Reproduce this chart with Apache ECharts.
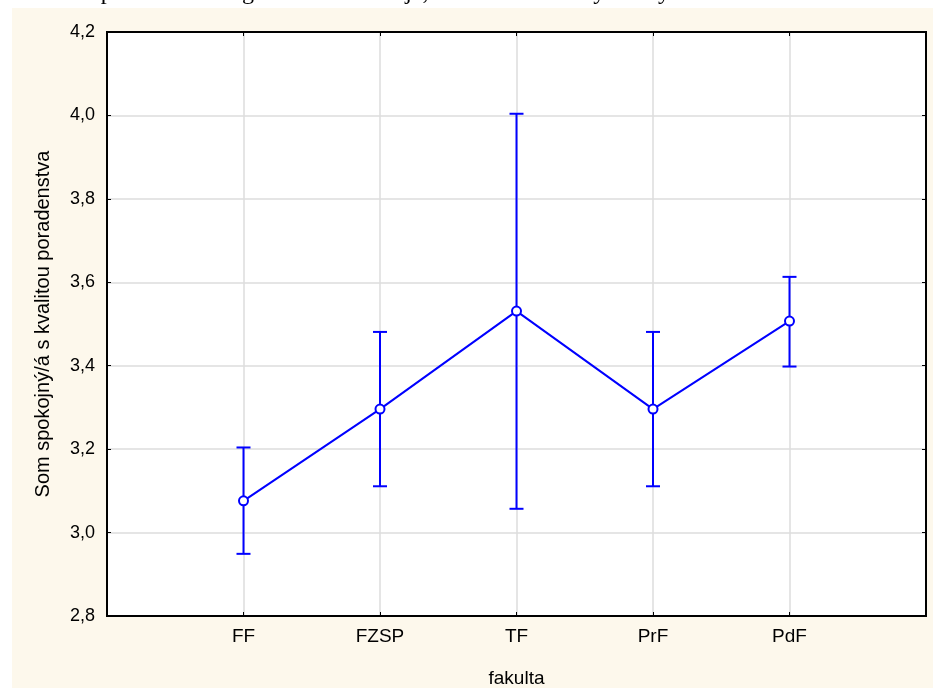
<!DOCTYPE html>
<html>
<head>
<meta charset="utf-8">
<script src="https://cdn.jsdelivr.net/npm/echarts@6/dist/echarts.min.js"></script>
<style>
  html, body { margin: 0; padding: 0; background: #fff; }
  #chart { width: 933px; height: 688px; }
</style>
</head>
<body>
<div id="chart"></div>
<script>
// fakulty, prazdne okraje aby body sedeli na 1..5 zo 6 dielov
var categories = ['', 'FF', 'FZSP', 'TF', 'PrF', 'PdF', ''];
var faculties = ['FF', 'FZSP', 'TF', 'PrF', 'PdF'];
var means = [3.076, 3.296, 3.531, 3.296, 3.507];
var upper = [3.204, 3.481, 4.004, 3.481, 3.613];
var lower = [2.949, 3.111, 3.057, 3.111, 3.398];
var yTicks = [2.8, 3.0, 3.2, 3.4, 3.6, 3.8, 4.0, 4.2];

var blue = '#0000ff';
var font = '"Liberation Sans", Arial, sans-serif';

var chart = echarts.init(document.getElementById('chart'), null, { renderer: 'canvas' });

var lineData = faculties.map(function (f, i) { return [f, means[i]]; });
var errData = faculties.map(function (f, i) { return [f, lower[i], upper[i]]; });

function renderError(params, api) {
    var lo = api.coord([api.value(0), api.value(1)]);
    var hi = api.coord([api.value(0), api.value(2)]);
    var half = 7;
    var st = { stroke: blue, lineWidth: 2 };
    return {
        type: 'group',
        children: [
            { type: 'line', shape: { x1: lo[0], y1: lo[1], x2: hi[0], y2: hi[1] }, style: st },
            { type: 'line', shape: { x1: lo[0] - half, y1: lo[1], x2: lo[0] + half, y2: lo[1] }, style: st },
            { type: 'line', shape: { x1: hi[0] - half, y1: hi[1], x2: hi[0] + half, y2: hi[1] }, style: st }
        ]
    };
}

var option = {
    backgroundColor: '#fdf8ec',
    animation: false,
    graphic: [
        {
            type: 'rect', silent: true,
            shape: { x: 0, y: 0, width: 933, height: 8 },
            style: { fill: '#fff' }
        },
        {
            type: 'rect', silent: true,
            shape: { x: 0, y: 0, width: 12, height: 688 },
            style: { fill: '#fff' }
        },
        {
            type: 'text', left: -6, top: -19,
            style: {
                text: 'sú hodnotí poradenstvo v grafe dokumentuje, že študenti sú s týmto systémom',
                font: '24px "Liberation Serif", "Times New Roman", serif',
                fill: '#000'
            }
        },
        {
            type: 'rect', silent: true,
            shape: { x: 12, y: 8, width: 921, height: 6 },
            style: { fill: '#fdf8ec' }
        }
    ],
    grid: {
        left: 107, right: 7, top: 32, bottom: 72,
        outerBoundsMode: 'none',
        show: true, backgroundColor: '#fff', borderColor: '#000', borderWidth: 2
    },
    xAxis: [{
        type: 'category',
        data: categories,
        boundaryGap: false,
        name: 'fakulta',
        nameLocation: 'middle',
        nameGap: 53,
        nameTextStyle: { fontFamily: font, fontSize: 19, color: '#000' },
        axisLine: { lineStyle: { color: '#000', width: 2 } },
        axisTick: { inside: true, length: 4, lineStyle: { color: '#000' } },
        axisLabel: { fontFamily: font, fontSize: 19, color: '#000', margin: 11 },
        splitLine: { show: true, lineStyle: { color: '#dcdcdc', width: 1.5 } }
    }, {
        type: 'category',
        data: categories,
        boundaryGap: false,
        position: 'top',
        axisLine: { lineStyle: { color: '#000', width: 2 } },
        axisTick: { inside: true, length: 4, lineStyle: { color: '#000' } },
        axisLabel: { show: false },
        splitLine: { show: false }
    }],
    yAxis: [{
        type: 'value',
        min: 2.8, max: 4.2, interval: 0.2,
        name: 'Som spokojný/á s kvalitou poradenstva',
        nameLocation: 'middle',
        nameGap: 54,
        nameTextStyle: { fontFamily: font, fontSize: 20, color: '#000' },
        axisLine: { show: true, lineStyle: { color: '#000', width: 2 } },
        axisTick: { show: true, inside: true, length: 4, lineStyle: { color: '#000' } },
        axisLabel: {
            fontFamily: font, fontSize: 18, color: '#000', margin: 12,
            formatter: function (v) { return v.toFixed(1).replace('.', ','); }
        },
        splitLine: { show: true, lineStyle: { color: '#dcdcdc', width: 1.5 } }
    }, {
        type: 'value',
        min: 2.8, max: 4.2, interval: 0.2,
        position: 'right',
        axisLine: { show: true, lineStyle: { color: '#000', width: 2 } },
        axisTick: { show: true, inside: true, length: 4, lineStyle: { color: '#000' } },
        axisLabel: { show: false },
        splitLine: { show: false }
    }],
    series: [
        {
            type: 'custom',
            renderItem: renderError,
            data: errData,
            z: 3
        },
        {
            type: 'line',
            data: lineData,
            symbol: 'emptyCircle',
            symbolSize: 9,
            lineStyle: { color: blue, width: 2 },
            itemStyle: { color: blue, borderColor: blue, borderWidth: 1.6 },
            z: 4
        }
    ]
};

chart.setOption(option);
</script>
</body>
</html>
